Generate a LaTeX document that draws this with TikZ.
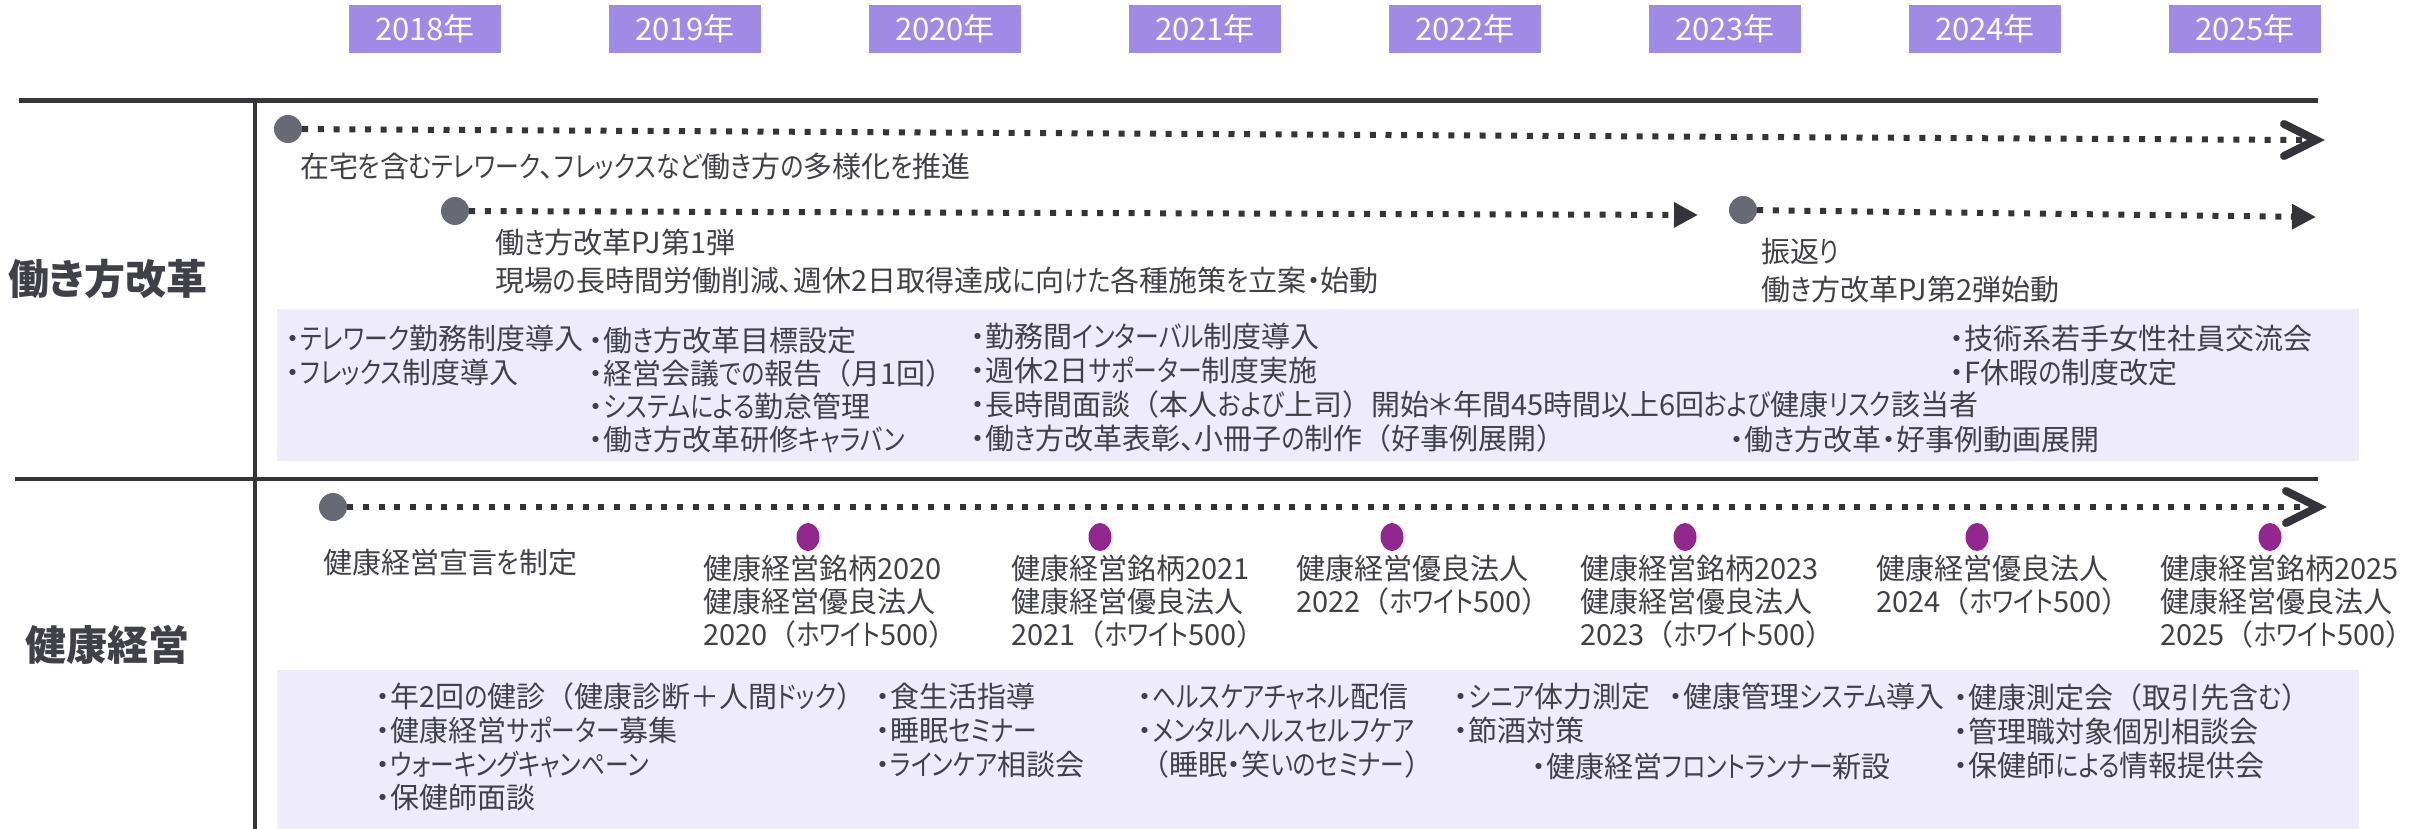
\documentclass[tikz,border=0pt]{standalone}
\usepackage{fontspec}
\setmainfont{Noto Sans CJK JP}[RawFeature={+palt}]
\newfontfamily\kanafont{Noto Sans CJK JP}[RawFeature={+palt}, FakeStretch=0.82]
\newfontfamily\fullfont{Noto Sans CJK JP}
\newcommand\kn[1]{{\kanafont #1}}
\newcommand\lp{{\fullfont （}}
\newcommand\rp{{\fullfont ）}}
\usetikzlibrary{arrows.meta,shapes.geometric}
\definecolor{ink}{RGB}{64,64,72}
\definecolor{rule}{RGB}{52,52,58}
\definecolor{yearfill}{RGB}{159,139,229}
\definecolor{panelfill}{RGB}{238,236,250}
\definecolor{dotgray}{RGB}{103,106,116}
\definecolor{dotpurple}{RGB}{146,39,143}
\tikzset{
  txt/.style={anchor=west, inner sep=0pt, text=ink, font=\fontsize{29}{35}\selectfont, text height=25.5pt, text depth=3.5pt},
  rowlabel/.style={inner sep=0pt, text=ink, font=\fontsize{41}{48}\selectfont\bfseries},
  yearbox/.style={fill=yearfill, text=white, minimum width=152pt, minimum height=48pt, inner sep=0pt, font=\fontsize{31}{36}\selectfont},
  panel/.style={fill=panelfill, anchor=north west, inner sep=0pt},
  gdot/.style={circle, fill=dotgray, minimum size=28pt, inner sep=0pt},
  pdot/.style={ellipse, fill=dotpurple, minimum width=23pt, minimum height=28pt, inner sep=0pt},
  dots/.style={draw=rule, line width=6pt, dash pattern=on 6pt off 9.7pt},
  chev/.style={draw=rule, line width=8pt, line cap=round, line join=miter},
  tri/.style={-{Triangle[length=24pt,width=24pt]}},
  sep/.style={draw=rule}
}
\begin{document}
\begin{tikzpicture}[x=1pt,y=-1pt]
\useasboundingbox (0,0) rectangle (2433,829);
% panels
\node[panel, minimum width=2082pt, minimum height=152pt] (panelA) at (277,309) {};
\node[panel, minimum width=2082pt, minimum height=159pt] (panelB) at (277,670) {};
% year boxes
\foreach \yr [count=\i from 0] in {2018,2019,2020,2021,2022,2023,2024,2025}
  \node[yearbox] (y\yr) at (425+260*\i,29) {\yr 年};
% rules
\coordinate (topL) at (19,101); \coordinate (topR) at (2318,101);
\coordinate (midL) at (15,479); \coordinate (midR) at (2318,479);
\coordinate (vT) at (255,101); \coordinate (vB) at (255,829);
\draw[sep, line width=5pt] (topL) -- (topR);
\draw[sep, line width=4pt] (midL) -- (midR);
\draw[sep, line width=3.5pt] (vT) -- (vB);
% row labels
\node[rowlabel] (labA) at (108,279) {働き方改革};
\node[rowlabel] (labB) at (107,645) {健康経営};
% ---- row A timelines
\node[gdot] (d1) at (288,129) {};
\coordinate (e1s) at (2306,140);
\coordinate (e1) at (2316,140);
\draw[dots] (d1) -- (e1s);
\draw[chev] (e1) ++(-32,-16) -- (e1) -- ++(-32,16);
\node[gdot] (d2) at (455,211) {};
\coordinate (e2) at (1698,215);
\draw[dots, tri] (d2) -- (e2);
\node[gdot] (d3) at (1743,210) {};
\coordinate (e3) at (2316,217);
\draw[dots, tri] (d3) -- (e3);
\node[txt] (a1) at (300,167) {在宅\kn{を}含\kn{むテレワーク}、\kn{フレックスなど}働\kn{き}方\kn{の}多様化\kn{を}推進};
\node[txt] (a2) at (495,242) {働\kn{き}方改革PJ第1弾};
\node[txt] (a3) at (495,280) {現場\kn{の}長時間労働削減、週休2日取得達成\kn{に}向\kn{けた}各種施策\kn{を}立案・始動};
\node[txt] (a4) at (1761,251) {振返\kn{り}};
\node[txt] (a5) at (1761,289) {働\kn{き}方改革PJ第2弾始動};
% row A panel items
\node[txt] (p1) at (286,338) {・\kn{テレワーク}勤務制度導入};
\node[txt] (p2) at (286,372) {・\kn{フレックス}制度導入};
\node[txt] (p3) at (589,340) {・働\kn{き}方改革目標設定};
\node[txt] (p4) at (589,373) {・経営会議\kn{での}報告\lp 月1回\rp};
\node[txt] (p5) at (589,406) {・\kn{システムによる}勤怠管理};
\node[txt] (p6) at (589,439) {・働\kn{き}方改革研修\kn{キャラバン}};
\node[txt] (p7) at (971,336) {・勤務間\kn{インターバル}制度導入};
\node[txt] (p8) at (971,370) {・週休2日\kn{サポーター}制度実施};
\node[txt] (p9) at (971,404) {・長時間面談\lp 本人\kn{および}上司\rp 開始＊年間45時間以上6回\kn{および}健康\kn{リスク}該当者};
\node[txt] (p10) at (971,438) {・働\kn{き}方改革表彰、小冊子\kn{の}制作\lp 好事例展開\rp};
\node[txt] (p11) at (1730,439) {・働\kn{き}方改革・好事例動画展開};
\node[txt] (p12) at (1950,338) {・技術系若手女性社員交流会};
\node[txt] (p13) at (1950,372) {・F休暇\kn{の}制度改定};
% ---- row B timeline
\node[gdot] (h0) at (333,507) {};
\coordinate (hes) at (2308,507);
\coordinate (he) at (2318,507);
\draw[dots] (h0) -- (hes);
\draw[chev] (he) ++(-32,-16) -- (he) -- ++(-32,16);
\node[txt] (b0) at (323,562) {健康経営宣言\kn{を}制定};
\node[pdot] (m1) at (808,537) {};
\node[pdot] (m2) at (1100,537) {};
\node[pdot] (m3) at (1392,537) {};
\node[pdot] (m4) at (1685,537) {};
\node[pdot] (m5) at (1977,537) {};
\node[pdot] (m6) at (2270,537) {};
\node[txt] (m1a) at (703,568) {健康経営銘柄2020};
\node[txt] (m1b) at (703,601) {健康経営優良法人};
\node[txt] (m1c) at (703,634) {2020\lp\kn{ホワイト}500\rp};
\node[txt] (m2a) at (1011,568) {健康経営銘柄2021};
\node[txt] (m2b) at (1011,601) {健康経営優良法人};
\node[txt] (m2c) at (1011,634) {2021\lp\kn{ホワイト}500\rp};
\node[txt] (m3a) at (1296,568) {健康経営優良法人};
\node[txt] (m3b) at (1296,601) {2022\lp\kn{ホワイト}500\rp};
\node[txt] (m4a) at (1580,568) {健康経営銘柄2023};
\node[txt] (m4b) at (1580,601) {健康経営優良法人};
\node[txt] (m4c) at (1580,634) {2023\lp\kn{ホワイト}500\rp};
\node[txt] (m5a) at (1876,568) {健康経営優良法人};
\node[txt] (m5b) at (1876,601) {2024\lp\kn{ホワイト}500\rp};
\node[txt] (m6a) at (2160,568) {健康経営銘柄2025};
\node[txt] (m6b) at (2160,601) {健康経営優良法人};
\node[txt] (m6c) at (2160,634) {2025\lp\kn{ホワイト}500\rp};
% row B panel items
\node[txt] (q1) at (376,696) {・年2回\kn{の}健診\lp 健康診断＋人間\kn{ドック}\rp};
\node[txt] (q2) at (376,730) {・健康経営\kn{サポーター}募集};
\node[txt] (q3) at (376,764) {・\kn{ウォーキングキャンペーン}};
\node[txt] (q4) at (376,797) {・保健師面談};
\node[txt] (q5) at (876,696) {・食生活指導};
\node[txt] (q6) at (876,730) {・睡眠\kn{セミナー}};
\node[txt] (q7) at (876,764) {・\kn{ラインケア}相談会};
\node[txt] (q8) at (1138,696) {・\kn{ヘルスケアチャネル}配信};
\node[txt] (q9) at (1138,730) {・\kn{メンタルヘルスセルフケア}};
\node[txt] (q10) at (1140,764) {\lp 睡眠・笑\kn{いのセミナー}\rp};
\node[txt] (q11) at (1454,696) {・\kn{シニア}体力測定};
\node[txt] (q12) at (1454,730) {・節酒対策};
\node[txt] (q13) at (1669,696) {・健康管理\kn{システム}導入};
\node[txt] (q14) at (1532,766) {・健康経営\kn{フロントランナー}新設};
\node[txt] (q15) at (1954,697) {・健康測定会\lp 取引先含\kn{む}\rp};
\node[txt] (q16) at (1954,731) {・管理職対象個別相談会};
\node[txt] (q17) at (1954,765) {・保健師\kn{による}情報提供会};
\end{tikzpicture}
\end{document}
